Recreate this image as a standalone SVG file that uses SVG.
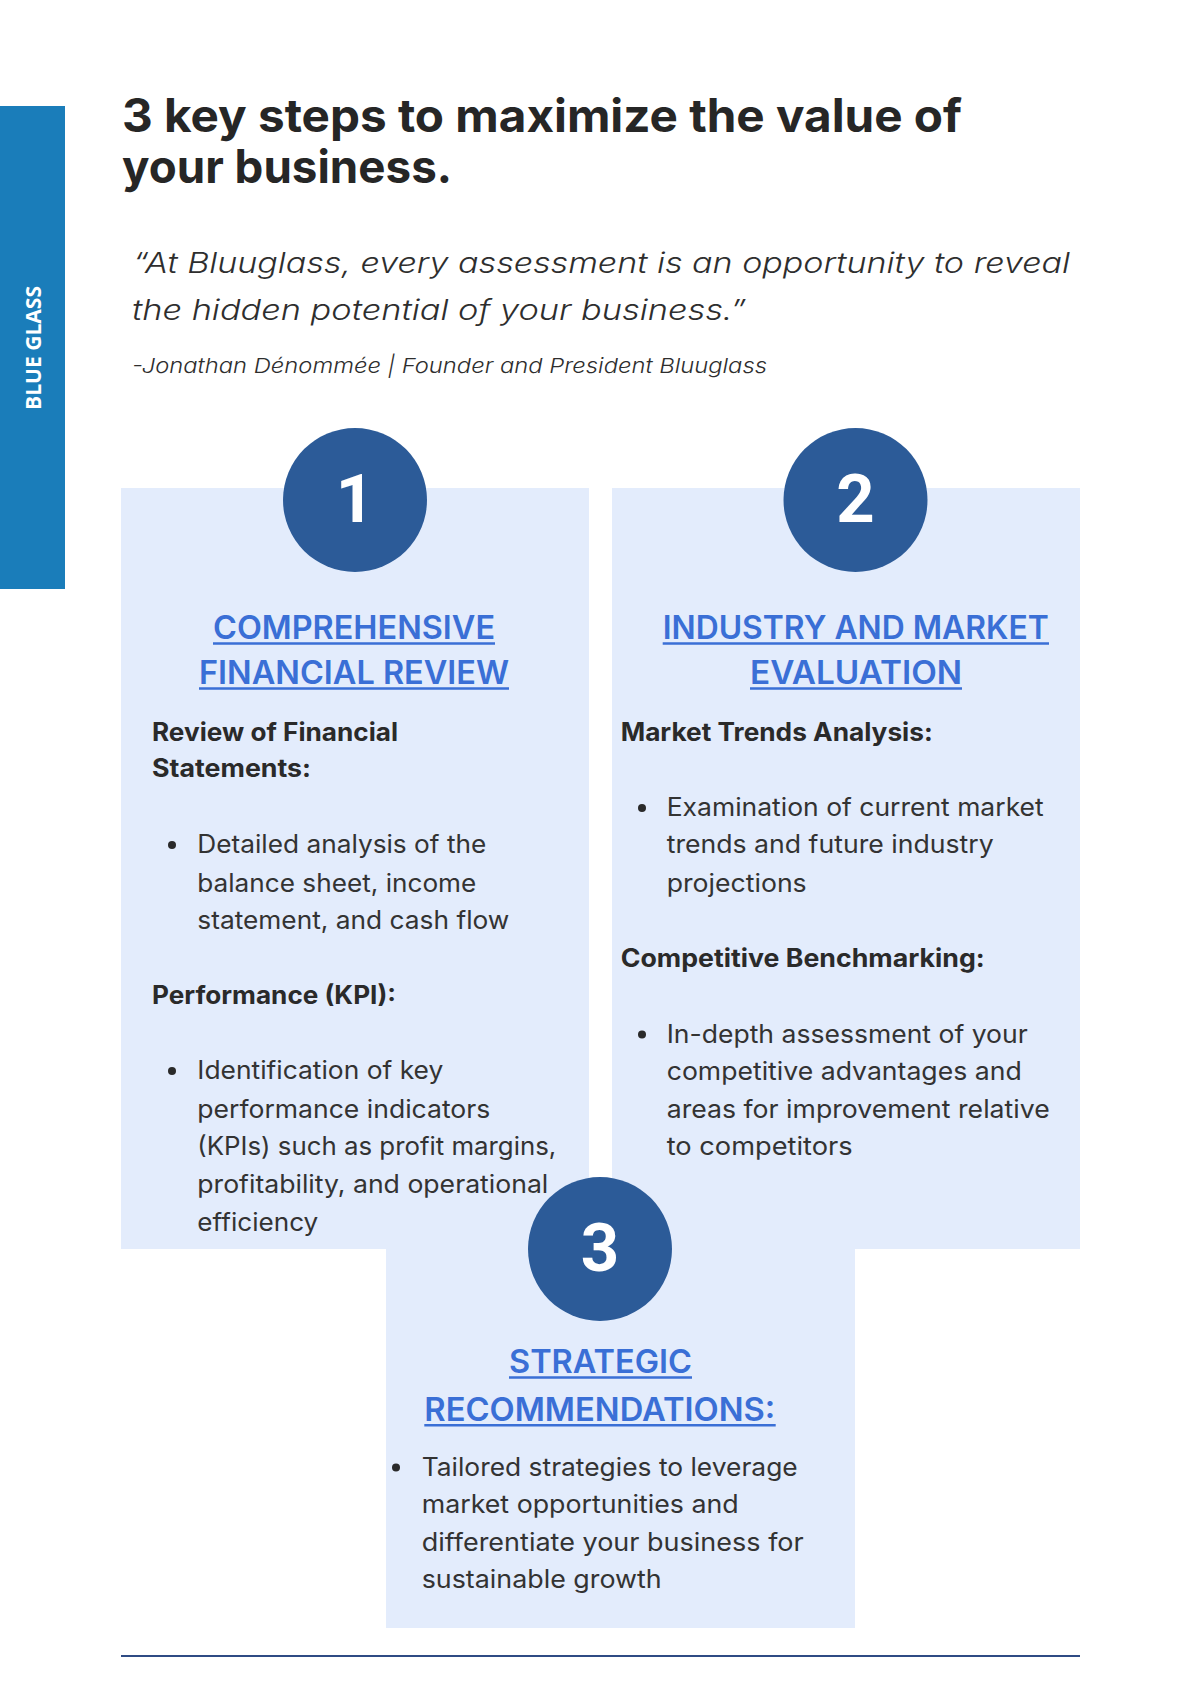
<svg xmlns="http://www.w3.org/2000/svg" width="1200" height="1697" viewBox="0 0 1200 1697">
<defs>
<style>
.title{font-family:Inter,"Liberation Sans",sans-serif;font-weight:700;font-size:46px;fill:#262626}
.quote{font-family:Inter,"Liberation Sans",sans-serif;font-weight:300;font-style:italic;font-size:28px;fill:#2e2e2e}
.attr{font-family:Inter,"Liberation Sans",sans-serif;font-weight:300;font-style:italic;font-size:20.5px;fill:#2e2e2e}
.box{fill:#e3ecfc}
.num{fill:#2c5b98}
.digit{font-family:Roboto,"Liberation Sans",sans-serif;font-weight:700;font-size:67px;fill:#ffffff;text-anchor:middle}
.head{font-family:Inter,"Liberation Sans",sans-serif;font-weight:600;font-size:32px;fill:#3a6fd6}
.ul{stroke:#3a6fd6;stroke-width:2.4}
.lab{font-family:Inter,"Liberation Sans",sans-serif;font-weight:700;font-size:25px;fill:#2a2a2a}
.body{font-family:Inter,"Liberation Sans",sans-serif;font-weight:400;font-size:25px;fill:#333333}
.dot{fill:#2a2a2a}
.side{font-family:"Open Sans","Liberation Sans",sans-serif;font-weight:700;font-size:21px;fill:#ffffff;text-anchor:middle}
</style>
</defs>

<g id="sidebar">
<rect x="0" y="106" width="65" height="483" fill="#1a7dba"/>
<text class="side" x="41" y="348" transform="rotate(-90 41 348)" textLength="124" lengthAdjust="spacingAndGlyphs">BLUE GLASS</text>
</g>

<g id="title">
<text class="title" x="122" y="131.5" textLength="840" lengthAdjust="spacingAndGlyphs">3 key steps to maximize the value of</text>
<text class="title" x="122" y="183" textLength="330" lengthAdjust="spacingAndGlyphs">your business.</text>
</g>

<g id="quote">
<text class="quote" x="133" y="273" textLength="937" lengthAdjust="spacingAndGlyphs">“At Bluuglass, every assessment is an opportunity to reveal</text>
<text class="quote" x="132" y="320" textLength="614" lengthAdjust="spacingAndGlyphs">the hidden potential of your business.”</text>
<text class="attr" x="132" y="373" textLength="635" lengthAdjust="spacingAndGlyphs">-Jonathan Dénommée | Founder and President Bluuglass</text>
</g>

<g id="step1">
<rect class="box" x="121" y="488" width="468" height="761"/>
</g>
<g id="step2">
<rect class="box" x="612" y="488" width="468" height="761"/>
</g>
<g id="step3">
<rect class="box" x="386" y="1248" width="469" height="380"/>
</g>

<g id="step1-content">
<circle class="num" cx="355" cy="500" r="72"/>
<text class="digit" x="355" y="521.5">1</text>
<text class="head" x="213" y="639.3" textLength="282" lengthAdjust="spacingAndGlyphs">COMPREHENSIVE</text>
<line class="ul" x1="213" y1="643.5" x2="495" y2="643.5"/>
<text class="head" x="199" y="684.3" textLength="310" lengthAdjust="spacingAndGlyphs">FINANCIAL REVIEW</text>
<line class="ul" x1="199" y1="688.5" x2="509" y2="688.5"/>
<text class="lab" x="152" y="740.7" textLength="246" lengthAdjust="spacingAndGlyphs">Review of Financial</text>
<text class="lab" x="152" y="777.3" textLength="159" lengthAdjust="spacingAndGlyphs">Statements:</text>
<circle class="dot" cx="172" cy="845" r="4"/>
<text class="body" x="197.3" y="853.3" textLength="289" lengthAdjust="spacingAndGlyphs">Detailed analysis of the</text>
<text class="body" x="197.3" y="891.7" textLength="279" lengthAdjust="spacingAndGlyphs">balance sheet, income</text>
<text class="body" x="197.3" y="929" textLength="312" lengthAdjust="spacingAndGlyphs">statement, and cash flow</text>
<text class="lab" x="152" y="1004" textLength="244" lengthAdjust="spacingAndGlyphs">Performance (KPI):</text>
<circle class="dot" cx="172" cy="1071" r="4"/>
<text class="body" x="197.3" y="1079.3" textLength="246" lengthAdjust="spacingAndGlyphs">Identification of key</text>
<text class="body" x="197.3" y="1117.7" textLength="293" lengthAdjust="spacingAndGlyphs">performance indicators</text>
<text class="body" x="197.3" y="1155" textLength="359" lengthAdjust="spacingAndGlyphs">(KPIs) such as profit margins,</text>
<text class="body" x="197.3" y="1193.3" textLength="351" lengthAdjust="spacingAndGlyphs">profitability, and operational</text>
<text class="body" x="197.3" y="1231" textLength="121" lengthAdjust="spacingAndGlyphs">efficiency</text>
</g>

<g id="step2-content">
<circle class="num" cx="855.5" cy="500" r="72"/>
<text class="digit" x="855.5" y="521.5">2</text>
<text class="head" x="662.7" y="639.3" textLength="386" lengthAdjust="spacingAndGlyphs">INDUSTRY AND MARKET</text>
<line class="ul" x1="662.7" y1="643.5" x2="1049" y2="643.5"/>
<text class="head" x="750" y="684.3" textLength="212" lengthAdjust="spacingAndGlyphs">EVALUATION</text>
<line class="ul" x1="750" y1="688.5" x2="962" y2="688.5"/>
<text class="lab" x="620.7" y="740.7" textLength="312" lengthAdjust="spacingAndGlyphs">Market Trends Analysis:</text>
<circle class="dot" cx="642" cy="808" r="4"/>
<text class="body" x="666.7" y="816" textLength="377" lengthAdjust="spacingAndGlyphs">Examination of current market</text>
<text class="body" x="666.7" y="853.3" textLength="327" lengthAdjust="spacingAndGlyphs">trends and future industry</text>
<text class="body" x="666.7" y="891.7" textLength="140" lengthAdjust="spacingAndGlyphs">projections</text>
<text class="lab" x="620.7" y="966.7" textLength="364" lengthAdjust="spacingAndGlyphs">Competitive Benchmarking:</text>
<circle class="dot" cx="642" cy="1034.5" r="4"/>
<text class="body" x="666.7" y="1042.7" textLength="361" lengthAdjust="spacingAndGlyphs">In-depth assessment of your</text>
<text class="body" x="666.7" y="1080" textLength="355" lengthAdjust="spacingAndGlyphs">competitive advantages and</text>
<text class="body" x="666.7" y="1118.3" textLength="383" lengthAdjust="spacingAndGlyphs">areas for improvement relative</text>
<text class="body" x="666.7" y="1155" textLength="186" lengthAdjust="spacingAndGlyphs">to competitors</text>
</g>

<g id="step3-content">
<circle class="num" cx="600" cy="1249" r="72"/>
<text class="digit" x="600" y="1271">3</text>
<text class="head" x="509" y="1373.3" textLength="183" lengthAdjust="spacingAndGlyphs">STRATEGIC</text>
<line class="ul" x1="509" y1="1377.5" x2="692" y2="1377.5"/>
<text class="head" x="424.3" y="1421" textLength="351" lengthAdjust="spacingAndGlyphs">RECOMMENDATIONS:</text>
<line class="ul" x1="424.3" y1="1425.2" x2="775.7" y2="1425.2"/>
<circle class="dot" cx="396" cy="1467.5" r="4"/>
<text class="body" x="421.7" y="1475.7" textLength="376" lengthAdjust="spacingAndGlyphs">Tailored strategies to leverage</text>
<text class="body" x="421.7" y="1513" textLength="317" lengthAdjust="spacingAndGlyphs">market opportunities and</text>
<text class="body" x="421.7" y="1550.7" textLength="382" lengthAdjust="spacingAndGlyphs">differentiate your business for</text>
<text class="body" x="421.7" y="1588" textLength="240" lengthAdjust="spacingAndGlyphs">sustainable growth</text>
</g>

<g id="connectors">
<line x1="121" y1="1656" x2="1080" y2="1656" stroke="#2f4b84" stroke-width="2"/>
</g>
</svg>
